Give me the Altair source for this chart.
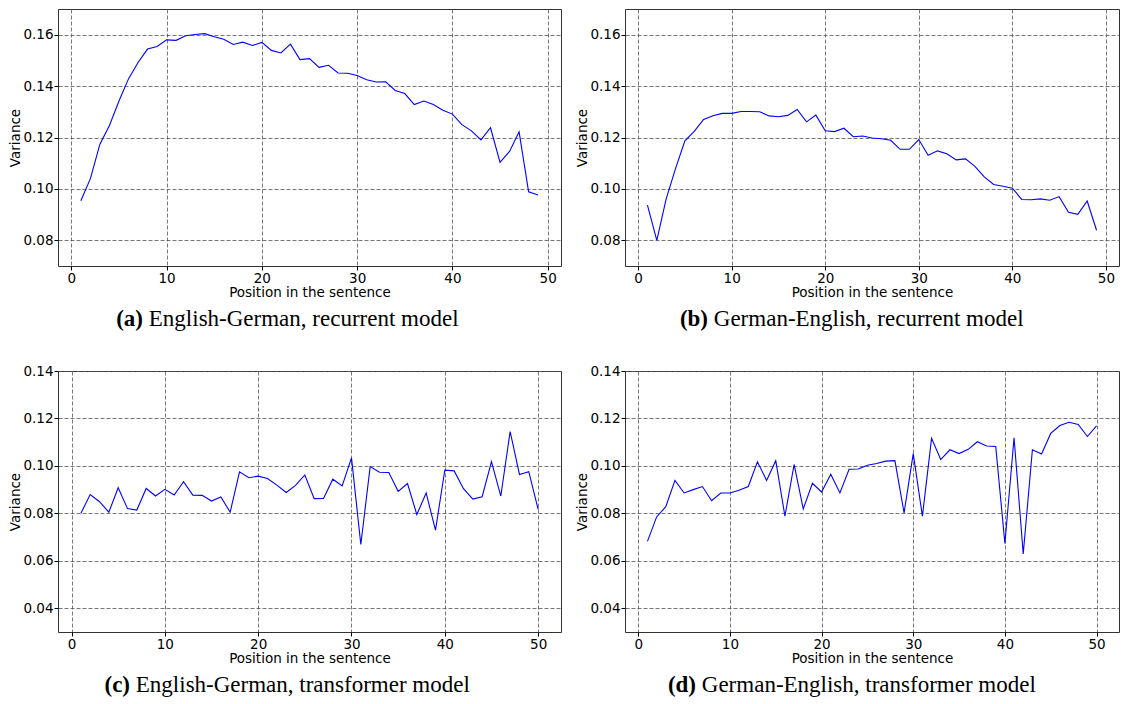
import altair as alt
import pandas as pd

# ---------------- data ----------------
pos_49 = list(range(1, 50))
pos_50 = list(range(1, 51))

rnn_en_de = [0.0954, 0.1040, 0.1174, 0.1247, 0.1342, 0.1428, 0.1492, 0.1544, 0.1554, 0.1580,
             0.1578, 0.1596, 0.1601, 0.1604, 0.1592, 0.1582, 0.1562, 0.1571, 0.1558, 0.1570,
             0.1539, 0.1529, 0.1563, 0.1503, 0.1507, 0.1473, 0.1481, 0.1451, 0.1450, 0.1441,
             0.1425, 0.1416, 0.1417, 0.1383, 0.1371, 0.1328, 0.1342, 0.1328, 0.1306, 0.1291,
             0.1250, 0.1226, 0.1191, 0.1238, 0.1103, 0.1146, 0.1222, 0.0989, 0.0976]

rnn_de_en = [0.0937, 0.0800, 0.0961, 0.1079, 0.1187, 0.1224, 0.1270, 0.1285, 0.1294, 0.1294,
             0.1301, 0.1301, 0.1300, 0.1284, 0.1281, 0.1286, 0.1309, 0.1261, 0.1287, 0.1226,
             0.1223, 0.1236, 0.1203, 0.1206, 0.1198, 0.1195, 0.1189, 0.1154, 0.1154, 0.1192,
             0.1131, 0.1148, 0.1137, 0.1113, 0.1117, 0.1088, 0.1047, 0.1017, 0.1010, 0.1003,
             0.0959, 0.0958, 0.0961, 0.0956, 0.0970, 0.0909, 0.0901, 0.0953, 0.0839]

trf_en_de = [0.0800, 0.0879, 0.0849, 0.0805, 0.0908, 0.0820, 0.0814, 0.0905, 0.0873, 0.0901,
             0.0877, 0.0933, 0.0877, 0.0876, 0.0852, 0.0869, 0.0805, 0.0975, 0.0950, 0.0957,
             0.0947, 0.0919, 0.0888, 0.0918, 0.0962, 0.0862, 0.0863, 0.0944, 0.0916, 0.1034,
             0.0669, 0.0997, 0.0973, 0.0972, 0.0893, 0.0926, 0.0795, 0.0886, 0.0729, 0.0982,
             0.0979, 0.0904, 0.0860, 0.0870, 0.1018, 0.0873, 0.1145, 0.0964, 0.0976, 0.0817]

trf_de_en = [0.0682, 0.0785, 0.0828, 0.0939, 0.0886, 0.0900, 0.0913, 0.0853, 0.0886, 0.0886,
             0.0897, 0.0913, 0.1017, 0.0939, 0.1022, 0.0788, 0.1006, 0.0819, 0.0927, 0.0890,
             0.0965, 0.0886, 0.0986, 0.0987, 0.1003, 0.1010, 0.1020, 0.1022, 0.0802, 0.1052,
             0.0788, 0.1116, 0.1027, 0.1068, 0.1052, 0.1070, 0.1102, 0.1084, 0.1082, 0.0673,
             0.1119, 0.0629, 0.1068, 0.1050, 0.1137, 0.1170, 0.1184, 0.1175, 0.1124, 0.1169]

x_ticks = [0, 10, 20, 30, 40, 50]
y_ticks_top = [0.08, 0.10, 0.12, 0.14, 0.16]
y_ticks_bottom = [0.04, 0.06, 0.08, 0.10, 0.12, 0.14]

cap_tags = ["(a)", "(b)", "(c)", "(d)"]
cap_texts = ["English-German, recurrent model",
             "German-English, recurrent model",
             "English-German, transformer model",
             "German-English, transformer model"]

SERIF = "Liberation Serif"
SANS = "DejaVu Sans"


def panel(xs, ys, xdom, ydom, yticks, w, h, tag, text, tag_right):
    df = pd.DataFrame({"pos": xs, "variance": ys})
    line = alt.Chart(df).mark_line(color="#0000ff", strokeWidth=1.1).encode(
        x=alt.X("pos:Q",
                scale=alt.Scale(domain=xdom, nice=False, zero=False),
                axis=alt.Axis(values=x_ticks, format="d", title="Position in the sentence")),
        y=alt.Y("variance:Q",
                scale=alt.Scale(domain=ydom, nice=False, zero=False),
                axis=alt.Axis(values=yticks, format=".2f", title="Variance", titlePadding=0)),
    )
    cap = pd.DataFrame({"tag": [tag], "text": [text]})
    tag_mark = alt.Chart(cap).mark_text(
        font=SERIF, fontSize=23, fontWeight="bold", align="right",
        baseline="alphabetic", color="black"
    ).encode(text="tag:N", x=alt.value(tag_right), y=alt.value(h + 60))
    text_mark = alt.Chart(cap).mark_text(
        font=SERIF, fontSize=23, fontWeight="normal", align="left",
        baseline="alphabetic", color="black"
    ).encode(text="text:N", x=alt.value(tag_right + 5.8), y=alt.value(h + 60))
    return alt.layer(line, tag_mark, text_mark).properties(width=w, height=h)


W_L, W_R = 503, 494
H_T, H_B = 257, 261

a = panel(pos_49, rnn_en_de, [-1.4, 51.4], [0.07, 0.17], y_ticks_top, W_L, H_T,
          cap_tags[0], cap_texts[0], 85)
b = panel(pos_49, rnn_de_en, [-1.4, 51.4], [0.07, 0.17], y_ticks_top, W_R, H_T,
          cap_tags[1], cap_texts[1], 83)
c = panel(pos_50, trf_en_de, [-1.45, 52.45], [0.03, 0.14], y_ticks_bottom, W_L, H_B,
          cap_tags[2], cap_texts[2], 72)
d = panel(pos_50, trf_de_en, [-1.45, 52.45], [0.03, 0.14], y_ticks_bottom, W_R, H_B,
          cap_tags[3], cap_texts[3], 71)

chart = alt.concat(
    a, b, c, d, columns=2, spacing={"row": 105, "column": 64}, bounds="flush"
).properties(
    padding=0, background="white"
).configure_view(
    stroke="#333333", strokeWidth=1
).configure_axis(
    labelFont=SANS, labelFontSize=13.5, labelColor="black",
    titleFont=SANS, titleFontSize=13.5, titleFontWeight="normal", titleColor="black",
    tickColor="black", tickSize=4, tickWidth=1, domain=False,
    grid=True, gridColor="#555555", gridDash=[4, 2], gridWidth=0.8, gridOpacity=1,
    labelPadding=1, titlePadding=1,
)

chart.save("out.html", embed_options={"renderer": "svg", "actions": False})
